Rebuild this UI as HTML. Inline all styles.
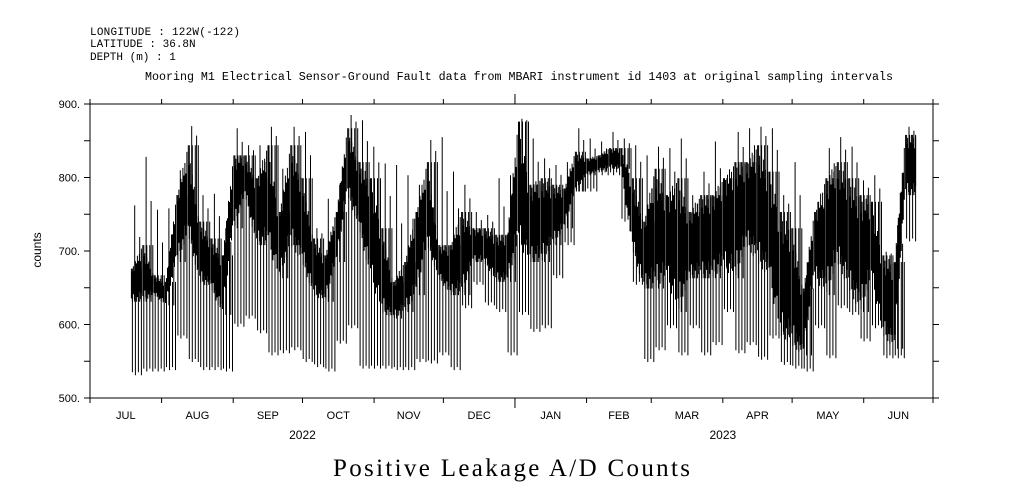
<!DOCTYPE html>
<html><head><meta charset="utf-8"><style>
body{margin:0;background:#fff;}
svg{display:block;font-family:"Liberation Sans",sans-serif;}
</style></head><body>
<svg id="chart" width="1009" height="504" viewBox="0 0 1009 504" xmlns="http://www.w3.org/2000/svg">
<g font-size="11" fill="#000" font-family="Liberation Mono, monospace">
<text x="90" y="35" textLength="150">LONGITUDE : 122W(-122)</text>
<text x="90" y="47">LATITUDE : 36.8N</text>
<text x="90" y="60">DEPTH (m) : 1</text>
</g>
<text x="145" y="80" font-size="11.5" font-family="Liberation Mono, monospace" textLength="748" lengthAdjust="spacingAndGlyphs">Mooring M1 Electrical Sensor-Ground Fault data from MBARI instrument id 1403 at original sampling intervals</text>
<text x="0" y="0" font-size="12" text-anchor="middle" transform="translate(41,250) rotate(-90)">counts</text>
<text x="333" y="476" font-size="25" font-family="Liberation Serif, serif" textLength="357" lengthAdjust="spacing">Positive Leakage A/D Counts</text>
<g id="axes"></g>
<g id="series"></g>
</svg>
<script>
const yTicks=[500,600,700,800,900];
const monthLabels=["JUL","AUG","SEP","OCT","NOV","DEC","JAN","FEB","MAR","APR","MAY","JUN"];
const monthStartDays=[0,31,62,92,123,153,184,215,243,274,304,335,365];
const yearLabels=["2022","2023"];
const yearCenterDays=[92,274];
const seriesStartDay=17.7;
const binDays=4.93;
const hiVals=[762,828,756,758,810,870,776,778,731,867,844,844,869,812,869,862,731,771,790,885,878,842,819,817,803,790,851,855,808,790,753,749,799,803,880,853,826,817,821,867,853,849,862,853,844,830,842,840,853,776,808,849,799,862,867,869,867,776,821,667,767,840,855,842,796,803,699,735,869];
const topVals=[676,708,667,658,776,844,740,717,694,830,830,799,844,753,844,799,717,694,753,867,821,799,731,658,685,753,821,708,708,753,731,731,722,722,876,790,799,790,785,835,826,830,840,840,799,740,812,776,799,753,776,776,799,821,821,844,808,753,731,649,753,799,821,799,776,767,694,685,858];
const botVals=[631,631,640,626,685,722,658,649,613,731,776,708,708,663,708,685,640,631,685,776,731,663,617,608,617,640,708,663,640,640,685,685,658,658,708,685,685,708,731,781,803,808,812,812,703,649,649,663,617,663,663,663,676,663,708,685,663,586,572,558,663,640,685,649,617,663,586,567,776];
const minVals=[531,536,536,538,581,549,538,538,536,597,608,588,558,561,565,549,542,536,574,595,540,540,540,538,538,549,547,558,538,622,654,626,617,558,613,590,595,663,708,781,781,803,803,740,654,549,565,595,558,595,558,572,617,561,572,552,581,545,540,536,595,554,622,613,577,595,554,554,713];

const X0=90,X1=933,Y0=398,Y1=104;
const xs=d=>X0+(X1-X0)*d/365;
const ys=v=>Y0-(Y0-Y1)*(v-500)/400;
const NS="http://www.w3.org/2000/svg";
function mk(tag,attrs,parent){const e=document.createElementNS(NS,tag);for(const k in attrs)e.setAttribute(k,attrs[k]);parent.appendChild(e);return e;}
const axes=document.getElementById('axes');
const frame=mk('rect',{x:X0,y:Y1,width:X1-X0,height:Y0-Y1,fill:'none',stroke:'#000','stroke-width':1},axes);


for(let v=500;v<=900;v+=50){
  const y=ys(v);
  const t1=mk('line',{x1:X0-6,x2:X0,y1:y,y2:y,stroke:'#000'},axes);
  
  
  const t2=mk('line',{x1:X1,x2:X1+6,y1:y,y2:y,stroke:'#000'},axes);
  
  
}
yTicks.forEach(v=>{
  const t=mk('text',{x:X0-10,y:ys(v)+4,'font-size':11,'text-anchor':'end'},axes);
  t.textContent=v+'.';
  
  
});
monthStartDays.forEach((d,i)=>{
  const x=xs(d);
  const big=(d===184);
  const a=mk('line',{x1:x,x2:x,y1:Y1-(big?10:5),y2:Y1,stroke:'#000'},axes);
  
  
  const b=mk('line',{x1:x,x2:x,y1:Y0,y2:Y0+(big?10:5),stroke:'#000'},axes);
  
  
  if(i<monthLabels.length){
    const t=mk('text',{x:(xs(d)+xs(monthStartDays[i+1]))/2,y:419,'font-size':11,'text-anchor':'middle'},axes);
    t.textContent=monthLabels[i];
    
    
  }
});
yearLabels.forEach((y,i)=>{
  const t=mk('text',{x:xs(yearCenterDays[i]),y:439,'font-size':12,'text-anchor':'middle'},axes);
  t.textContent=y;
  
  
});
const ser=document.getElementById('series');
let core='',thin='';
const n=hiVals.length;
for(let i=0;i<n;i++){
  const xa=xs(seriesStartDay+i*binDays), xb=xs(seriesStartDay+(i+1)*binDays);
  const nx=i+1<n?i+1:i;
  const cols=Math.max(1,Math.round(xb-xa));
  for(let c=0;c<cols;c++){
    const f=c/cols;
    let tp=topVals[i]+(topVals[nx]-topVals[i])*f;
    let bt=botVals[i]+(botVals[nx]-botVals[i])*f;
    const mid=(tp+bt)/2;
    const k=[0,0.3,0.1,0.45,0.05,0.25][c%6];
    const k2=[0.2,0,0.4,0.1,0.3,0][c%6];
    tp=tp-(tp-mid)*k;
    bt=bt+(mid-bt)*k2;
    const x=(xa+c+0.5).toFixed(1);
    core+=`M${x} ${ys(tp).toFixed(1)}V${ys(bt).toFixed(1)}`;
  }
  const xh=(xa+cols*0.35).toFixed(1);
  thin+=`M${xh} ${ys(hiVals[i]).toFixed(1)}V${ys(botVals[i]).toFixed(1)}`;
  const xh2=(xa+cols*0.8).toFixed(1);
  thin+=`M${xh2} ${ys((hiVals[i]+topVals[i])/2).toFixed(1)}V${ys(botVals[i]).toFixed(1)}`;
  for(let c=1;c<cols;c+=3){
    const x=(xa+c+0.5).toFixed(1);
    const mv=minVals[i]+(c%2?4:0);
    thin+=`M${x} ${ys(topVals[i]).toFixed(1)}V${ys(Math.min(mv,botVals[i])).toFixed(1)}`;
  }
}
const p1=mk('path',{d:core,stroke:'#000','stroke-width':1,fill:'none'},ser);


const p2=mk('path',{d:thin,stroke:'#000','stroke-width':1,fill:'none'},ser);


</script>
</body></html>
